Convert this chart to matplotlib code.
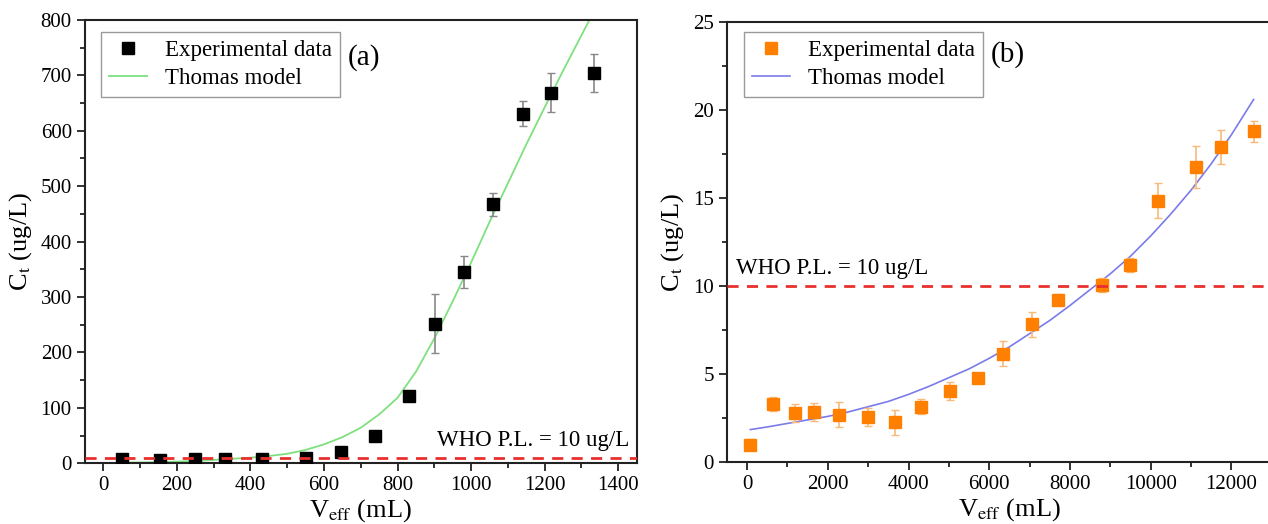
import matplotlib
matplotlib.use("Agg")
import matplotlib.pyplot as plt
from matplotlib.ticker import MultipleLocator

plt.rcParams["font.family"] = ["Liberation Serif", "DejaVu Serif"]
plt.rcParams["mathtext.fontset"] = "stix"

# panel (a): experimental data
v_a = [50, 155, 250, 330, 432, 550, 645, 738, 832, 903, 982, 1060, 1140, 1218, 1335]
c_a = [7, 6, 7, 7, 7, 10, 20, 50, 122, 252, 345, 467, 631, 669, 704]
err_a = [3, 3, 3, 3, 3, 3, 4, 5, 6, 54, 29, 21, 22, 35, 34]
# panel (a): Thomas model curve
model_v_a = [60, 100, 150, 200, 250, 300, 350, 400, 450, 500, 550, 600, 650, 700,
             750, 800, 850, 900, 950, 1000, 1050, 1100, 1150, 1200, 1250, 1300, 1322]
model_c_a = [1, 1.3, 2, 3, 4, 6, 8, 10, 13, 17, 24, 34, 47, 64,
             88, 118, 165, 225, 292, 362, 435, 505, 575, 642, 708, 772, 800]

# panel (b): experimental data
v_b = [80, 640, 1190, 1667, 2287, 2998, 3659, 4319, 5030, 5732, 6352, 7063,
       7703, 8791, 9482, 10193, 11128, 11748, 12551]
c_b = [1.0, 3.3, 2.8, 2.85, 2.7, 2.55, 2.26, 3.16, 4.05, 4.8, 6.16, 7.82,
       9.23, 10.06, 11.2, 14.85, 16.77, 17.9, 18.8]
err_b = [0.3, 0.4, 0.5, 0.5, 0.7, 0.5, 0.7, 0.4, 0.5, 0.2, 0.7, 0.7,
         0.3, 0.4, 0.4, 1.0, 1.2, 0.95, 0.6]
# panel (b): Thomas model curve
model_v_b = [80, 500, 1000, 1500, 2000, 2500, 3000, 3500, 4000, 4500, 5000, 5500,
             6000, 6500, 7000, 7500, 8000, 8500, 9000, 9500, 10000, 10500, 11000,
             11500, 12000, 12550]
model_c_b = [1.85, 2.0, 2.2, 2.4, 2.6, 2.85, 3.15, 3.45, 3.85, 4.3, 4.8, 5.3,
             5.9, 6.55, 7.3, 8.05, 8.9, 9.8, 10.7, 11.7, 12.85, 14.1, 15.45,
             16.95, 18.6, 20.6]

who_limit = 10

fig = plt.figure(figsize=(12.68, 5.24), dpi=100)
ax_a = fig.add_axes([0.067, 0.116, 0.435, 0.846])
ax_b = fig.add_axes([0.5733, 0.118, 0.4456, 0.840])


def style_axes(ax):
    for s in ax.spines.values():
        s.set_linewidth(1.5)
        s.set_color("#222222")
    ax.tick_params(which="both", direction="out", top=False, right=False,
                   labelsize=15, width=1.3, color="#222222")
    ax.tick_params(which="major", length=6)
    ax.tick_params(which="minor", length=3.5)


def add_legend(ax, x0, y0):
    ax.legend(loc="upper left", bbox_to_anchor=(x0, y0), fontsize=16.5,
              fancybox=False, edgecolor="#999999", framealpha=1, borderpad=0.35,
              handlelength=1.65, handletextpad=0.8, labelspacing=0.3,
              borderaxespad=0)


# ---- (a)
ax_a.errorbar(v_a, c_a, yerr=err_a, fmt="none", ecolor="#888888",
              elinewidth=1.2, capsize=3, capthick=1.0, zorder=3)
ax_a.plot(v_a, c_a, "s", color="black", ms=8.5, label="Experimental data", zorder=4)
ax_a.plot(model_v_a, model_c_a, color="#7fe07f", lw=1.3, label="Thomas model", zorder=2)
ax_a.axhline(who_limit, color="#e8302e", lw=2, ls=(0, (4, 3)), zorder=5)
ax_a.set_xlim(-50, 1450)
ax_a.set_ylim(0, 800)
ax_a.xaxis.set_major_locator(MultipleLocator(200))
ax_a.xaxis.set_minor_locator(MultipleLocator(100))
ax_a.yaxis.set_major_locator(MultipleLocator(100))
ax_a.yaxis.set_minor_locator(MultipleLocator(50))
style_axes(ax_a)
ax_a.set_xlabel("V$_\\mathrm{eff}$ (mL)", fontsize=19, labelpad=1)
ax_a.set_ylabel("C$_\\mathrm{t}$ (ug/L)", fontsize=19, labelpad=5)
ax_a.text(1430, 22, "WHO P.L. = 10 ug/L", fontsize=16.5, ha="right", va="bottom")
ax_a.text(0.505, 0.915, "(a)", transform=ax_a.transAxes, fontsize=21,
          ha="center", va="center")
add_legend(ax_a, 0.029, 0.973)

# ---- (b)
ax_b.errorbar(v_b, c_b, yerr=err_b, fmt="none", ecolor="#f9b97a",
              elinewidth=1.2, capsize=3, capthick=1.0, zorder=3)
ax_b.plot(v_b, c_b, "s", color="#ff8000", ms=8.5, label="Experimental data", zorder=4)
ax_b.plot(model_v_b, model_c_b, color="#7b7bea", lw=1.2, label="Thomas model", zorder=2)
ax_b.axhline(who_limit, color="#e8302e", lw=2, ls=(0, (4, 3)), zorder=5)
ax_b.set_xlim(-500, 13500)
ax_b.set_ylim(0, 25)
ax_b.xaxis.set_major_locator(MultipleLocator(2000))
ax_b.xaxis.set_minor_locator(MultipleLocator(1000))
ax_b.yaxis.set_major_locator(MultipleLocator(5))
ax_b.yaxis.set_minor_locator(MultipleLocator(2.5))
style_axes(ax_b)
ax_b.set_xlabel("V$_\\mathrm{eff}$ (mL)", fontsize=19, labelpad=1)
ax_b.set_ylabel("C$_\\mathrm{t}$ (ug/L)", fontsize=19, labelpad=5)
ax_b.text(-280, 10.4, "WHO P.L. = 10 ug/L", fontsize=16.5, ha="left", va="bottom")
ax_b.text(0.497, 0.925, "(b)", transform=ax_b.transAxes, fontsize=21,
          ha="center", va="center")
add_legend(ax_b, 0.03, 0.977)

fig.savefig("out.png", dpi=100)
plt.close(fig)
